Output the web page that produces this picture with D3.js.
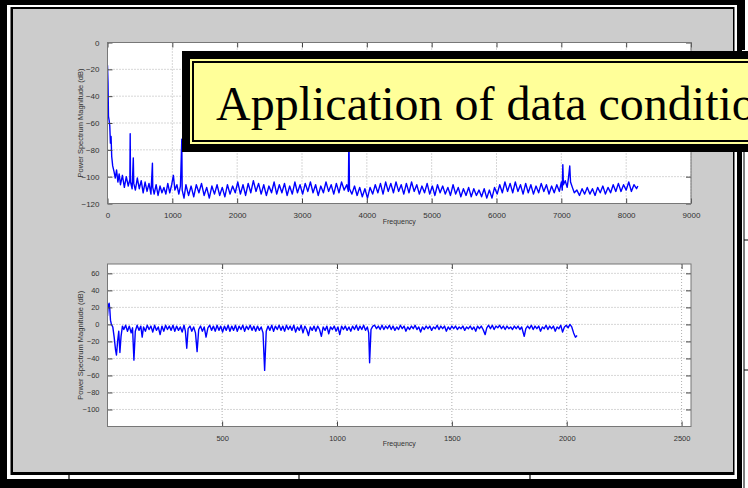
<!DOCTYPE html>
<html>
<head>
<meta charset="utf-8">
<script src="https://cdn.jsdelivr.net/npm/d3@7/dist/d3.min.js"></script>
<style>
body { margin: 0; background: #fff; }
svg { display: block; }
</style>
</head>
<body>
<script>
// raw power spectrum, [frequency Hz, dB]
var rawSpectrum = [
  [0,-17],[8,-30],[15,-55],[25,-58],[35,-62],[45,-75],[55,-70],[65,-85],[80,-92],[100,-96],
  [120,-101],[140,-95],[160,-104],[180,-98],[200,-106],[230,-99],[260,-108],[290,-100],[320,-107],[345,-102],
  [350,-68],[355,-104],[380,-109],[398,-86],[405,-105],[430,-110],[460,-101],[490,-109],[520,-103],[550,-112],
  [580,-104],[610,-111],[640,-105],[670,-113],[693,-90],[698,-108],[720,-113],[750,-106],[780,-114],[810,-107],
  [840,-112],[870,-108],[900,-113],[930,-105],[960,-112],[990,-106],[1016,-99],[1040,-110],[1070,-106],[1100,-113],
  [1125,-107],[1146,-72],[1152,-110],[1180,-116],[1210,-106],[1250,-114],[1290,-107],[1330,-115],[1370,-106],[1410,-112],
  [1450,-105],[1490,-114],[1530,-108],[1570,-116],[1610,-107],[1650,-113],[1690,-106],[1730,-114],[1770,-108],[1810,-115],
  [1850,-106],[1890,-113],[1930,-107],[1970,-112],[2010,-104],[2050,-113],[2090,-106],[2130,-114],[2170,-105],[2210,-112],
  [2250,-103],[2290,-111],[2330,-105],[2370,-113],[2410,-106],[2450,-114],[2490,-107],[2530,-112],[2570,-104],[2610,-113],
  [2650,-106],[2690,-112],[2730,-105],[2770,-114],[2810,-107],[2850,-113],[2890,-104],[2930,-112],[2970,-106],[3010,-113],
  [3050,-105],[3090,-111],[3130,-104],[3170,-112],[3210,-106],[3250,-114],[3290,-107],[3330,-112],[3370,-104],[3410,-111],
  [3450,-106],[3490,-113],[3530,-105],[3570,-112],[3610,-104],[3650,-110],[3690,-106],[3715,-111],[3724,-68],[3732,-109],
  [3770,-113],[3810,-107],[3850,-114],[3890,-108],[3930,-115],[3970,-109],[4010,-116],[4050,-108],[4090,-113],[4130,-106],
  [4170,-112],[4210,-105],[4250,-113],[4290,-104],[4330,-111],[4370,-105],[4410,-112],[4450,-104],[4490,-111],[4530,-106],
  [4570,-113],[4610,-105],[4650,-112],[4690,-104],[4730,-111],[4770,-106],[4810,-113],[4850,-107],[4890,-112],[4930,-105],
  [4970,-113],[5010,-107],[5050,-114],[5090,-106],[5130,-112],[5170,-107],[5210,-113],[5250,-108],[5290,-114],[5330,-106],
  [5370,-113],[5410,-108],[5450,-115],[5490,-109],[5530,-114],[5570,-108],[5610,-115],[5650,-109],[5690,-114],[5730,-110],
  [5770,-115],[5810,-109],[5850,-116],[5890,-110],[5930,-116],[5970,-108],[6010,-113],[6050,-106],[6090,-112],[6130,-104],
  [6170,-111],[6210,-105],[6250,-112],[6290,-104],[6330,-111],[6370,-106],[6410,-113],[6450,-105],[6490,-112],[6530,-106],
  [6570,-113],[6610,-107],[6650,-112],[6690,-105],[6730,-111],[6770,-106],[6810,-113],[6850,-107],[6890,-112],[6930,-106],
  [6970,-111],[7000,-104],[7015,-110],[7023,-91],[7032,-106],[7060,-103],[7090,-108],[7110,-101],[7130,-92],[7142,-104],
  [7170,-108],[7200,-112],[7240,-110],[7280,-114],[7320,-109],[7360,-113],[7400,-108],[7440,-113],[7480,-109],[7520,-114],
  [7560,-108],[7600,-112],[7640,-107],[7680,-113],[7720,-108],[7760,-112],[7800,-106],[7840,-111],[7880,-105],[7920,-111],
  [7960,-106],[8000,-110],[8040,-104],[8080,-111],[8120,-106],[8160,-109],[8180,-107]
];

// spectrum after data conditioning, [frequency Hz, dB]
var condSpectrum = [
  [1,10],[4,22],[8,25],[11,18],[14,5],[18,0],[24,-3],[30,-15],[36,-30],[40,-36],
  [45,-20],[50,-8],[55,-33],[60,-14],[66,-2],[72,-6],[80,-1],[88,-8],[96,-2],[104,-10],
  [110,-4],[116,-42],[122,-8],[130,-1],[138,-7],[146,-2],[152,-15],[158,-3],[166,-8],[174,-1],
  [182,-6],[190,-2],[198,-9],[206,-1],[214,-7],[222,-3],[230,-12],[238,-2],[246,-8],[254,-1],
  [262,-6],[270,-2],[278,-7],[286,-1],[294,-8],[302,-2],[310,-7],[318,-3],[326,-9],[334,-1],
  [340,-8],[346,-28],[352,-5],[360,-2],[368,-8],[376,-3],[384,-10],[391,-32],[398,-6],[406,-2],
  [414,-8],[422,-3],[430,-15],[438,-4],[446,-1],[454,-7],[462,-2],[470,-8],[478,-1],[486,-7],
  [494,-2],[502,-9],[510,-2],[518,-7],[526,-1],[534,-8],[542,-2],[550,-7],[558,-1],[566,-8],
  [574,-2],[582,-6],[590,-1],[598,-8],[606,-2],[614,-6],[622,-1],[630,-7],[638,-2],[646,-8],
  [654,-2],[662,-7],[670,-3],[678,-10],[685,-54],[692,-8],[700,-2],[708,-7],[716,-1],[724,-8],
  [732,-2],[740,-6],[748,-1],[756,-7],[764,-2],[772,-8],[780,-1],[788,-6],[796,-2],[804,-7],
  [812,-1],[820,-9],[828,-3],[836,-7],[844,-1],[852,-10],[860,-2],[868,-6],[876,-13],[884,-3],
  [892,-7],[900,-2],[908,-8],[916,-2],[924,-6],[932,-14],[940,-3],[948,-7],[956,-2],[964,-11],
  [972,-3],[980,-6],[988,-2],[996,-8],[1004,-3],[1012,-12],[1020,-2],[1028,-6],[1036,-2],[1044,-7],
  [1052,-3],[1060,-8],[1068,-2],[1076,-6],[1084,-1],[1092,-7],[1100,-2],[1108,-6],[1116,-1],[1124,-7],
  [1132,-3],[1138,-10],[1142,-45],[1148,-6],[1156,-2],[1164,-1],[1172,-5],[1180,-2],[1188,-6],[1196,-1],
  [1204,-6],[1212,-2],[1220,-5],[1228,-1],[1236,-6],[1244,-2],[1252,-7],[1260,-3],[1268,-6],[1276,-1],
  [1284,-5],[1292,-2],[1300,-8],[1308,-3],[1316,-6],[1324,-2],[1332,-5],[1340,-1],[1348,-6],[1356,-3],
  [1364,-9],[1372,-3],[1380,-6],[1388,-2],[1396,-5],[1404,-2],[1412,-7],[1420,-3],[1428,-5],[1436,-1],
  [1444,-6],[1452,-2],[1460,-5],[1468,-2],[1476,-8],[1484,-3],[1492,-6],[1500,-2],[1508,-5],[1516,-2],
  [1524,-6],[1532,-3],[1540,-5],[1548,-2],[1556,-7],[1564,-3],[1572,-5],[1580,-2],[1588,-6],[1596,-3],
  [1604,-8],[1612,-2],[1620,-5],[1628,-2],[1636,-6],[1645,-12],[1652,-4],[1660,-1],[1668,-5],[1676,-1],
  [1684,-6],[1692,-2],[1700,-4],[1708,-1],[1716,-5],[1724,-2],[1732,-6],[1740,-2],[1748,-5],[1756,-3],
  [1764,-6],[1772,-2],[1780,-5],[1788,-2],[1796,-6],[1804,-3],[1815,-14],[1822,-5],[1830,-2],[1838,-5],
  [1846,-1],[1854,-6],[1862,-2],[1870,-5],[1878,-2],[1886,-8],[1894,-3],[1902,-5],[1910,-1],[1918,-6],
  [1926,-2],[1934,-5],[1942,-2],[1950,-8],[1958,-3],[1966,-5],[1974,-1],[1982,-9],[1990,-3],[1998,-1],
  [2006,-4],[2014,0],[2022,-3],[2030,-10],[2038,-15],[2045,-13]
];

var xTicks1 = [0, 1000, 2000, 3000, 4000, 5000, 6000, 7000, 8000, 9000];
var yTicks1 = [0, -20, -40, -60, -80, -100, -120];
var xTicks2 = [500, 1000, 1500, 2000, 2500];
var yTicks2 = [60, 40, 20, 0, -20, -40, -60, -80, -100];

var svg = d3.select('body').append('svg')
    .attr('width', 748)
    .attr('height', 488);

// slide frame
svg.append('rect').attr('x', 0).attr('y', 0).attr('width', 748).attr('height', 488).attr('fill', '#fff');
svg.append('rect').attr('x', 0).attr('y', 0).attr('width', 742).attr('height', 488).attr('fill', '#000');
svg.append('rect').attr('x', 7).attr('y', 5).attr('width', 730).attr('height', 474).attr('fill', '#fff');
svg.append('rect').attr('x', 10.5).attr('y', 7).attr('width', 724).attr('height', 468).attr('fill', '#000');
svg.append('rect').attr('x', 13).attr('y', 9).attr('width', 720).attr('height', 463).attr('fill', '#cccccc');
[69, 299, 530].forEach(function (x) {
    svg.append('line').attr('x1', x).attr('x2', x).attr('y1', 475).attr('y2', 479)
        .attr('stroke', '#000').attr('stroke-width', 1.2);
});
svg.append('rect').attr('x', 742).attr('y', 0).attr('width', 3).attr('height', 50).attr('fill', '#000');
svg.append('line').attr('x1', 744).attr('x2', 744).attr('y1', 150).attr('y2', 488)
    .attr('stroke', '#000').attr('stroke-width', 1);
[240, 370].forEach(function (y) {
    svg.append('line').attr('x1', 744).attr('x2', 748).attr('y1', y).attr('y2', y)
        .attr('stroke', '#000').attr('stroke-width', 1);
});

function panel(id, data, left, top, right, bottom, xDomain, yDomain, xTicks, yTicks, fs, freqY) {
    var x = d3.scaleLinear().domain(xDomain).range([left, right]);
    var y = d3.scaleLinear().domain(yDomain).range([bottom, top]);
    var w = right - left, h = bottom - top;

    svg.append('rect').attr('x', left).attr('y', top).attr('width', w).attr('height', h).attr('fill', '#fff');

    // dotted grid
    var grid = svg.append('g').attr('stroke', '#9a9a9a').attr('stroke-width', 0.8).attr('stroke-dasharray', '1,2');
    xTicks.forEach(function (t) {
        grid.append('line').attr('x1', x(t)).attr('x2', x(t)).attr('y1', top).attr('y2', bottom);
    });
    yTicks.forEach(function (t) {
        grid.append('line').attr('x1', left).attr('x2', right).attr('y1', y(t)).attr('y2', y(t));
    });

    svg.append('clipPath').attr('id', id).append('rect')
        .attr('x', left).attr('y', top).attr('width', w).attr('height', h);

    var line = d3.line().x(function (d) { return x(d[0]); }).y(function (d) { return y(d[1]); });
    svg.append('path').datum(data)
        .attr('clip-path', 'url(#' + id + ')')
        .attr('d', line)
        .attr('fill', 'none')
        .attr('stroke', '#0000ff')
        .attr('stroke-width', 1.4)
        .attr('stroke-linejoin', 'round');

    var tl = 5;
    var axB = svg.append('g').attr('transform', 'translate(0,' + bottom + ')')
        .call(d3.axisBottom(x).tickValues(xTicks).tickSizeInner(-tl).tickSizeOuter(0).tickPadding(tl + 4).tickFormat(d3.format('d')));
    var axT = svg.append('g').attr('transform', 'translate(0,' + top + ')')
        .call(d3.axisTop(x).tickValues(xTicks).tickSizeInner(-tl).tickSizeOuter(0).tickFormat(''));
    var axL = svg.append('g').attr('transform', 'translate(' + left + ',0)')
        .call(d3.axisLeft(y).tickValues(yTicks).tickSizeInner(-tl).tickSizeOuter(0).tickPadding(tl + 3).tickFormat(d3.format('d')));
    var axR = svg.append('g').attr('transform', 'translate(' + right + ',0)')
        .call(d3.axisRight(y).tickValues(yTicks).tickSizeInner(-tl).tickSizeOuter(0).tickFormat(''));
    [axB, axT, axL, axR].forEach(function (a) {
        a.select('.domain').remove();
        a.selectAll('line').attr('stroke', '#444');
        a.selectAll('text').attr('fill', '#333').attr('font-family', 'Liberation Sans, Arial, sans-serif').attr('font-size', fs);
    });

    svg.append('rect').attr('x', left).attr('y', top).attr('width', w).attr('height', h)
        .attr('fill', 'none').attr('stroke', '#777').attr('stroke-width', 1);

    svg.append('text')
        .attr('transform', 'translate(83,' + ((top + bottom) / 2) + ') rotate(-90)')
        .attr('text-anchor', 'middle')
        .attr('font-family', 'Liberation Sans, Arial, sans-serif')
        .attr('font-size', 7.5)
        .attr('fill', '#333')
        .text('Power Spectrum Magnitude (dB)');

    svg.append('text')
        .attr('x', (left + right) / 2)
        .attr('y', freqY)
        .attr('text-anchor', 'middle')
        .attr('font-family', 'Liberation Sans, Arial, sans-serif')
        .attr('font-size', 7)
        .attr('fill', '#333')
        .text('Frequency');
}

panel('c1', rawSpectrum, 107.5, 42.5, 691, 203.5, [0, 9000], [-120, 0], xTicks1, yTicks1, 8, 224);
panel('c2', condSpectrum, 107.5, 264, 691, 426.5, [1, 2541], [-120, 71], xTicks2, yTicks2, 7.5, 446);

// title banner, runs off the right edge as in the slide
var box = svg.append('g');
box.append('rect').attr('x', 182).attr('y', 51).attr('width', 600).attr('height', 101).attr('fill', '#000');
box.append('rect').attr('x', 190).attr('y', 59).attr('width', 600).attr('height', 85).attr('fill', '#ffff99');
box.append('rect').attr('x', 192).attr('y', 61).attr('width', 600).attr('height', 81).attr('fill', '#000');
box.append('rect').attr('x', 194).attr('y', 63).attr('width', 600).attr('height', 77).attr('fill', '#ffff99');
box.append('text')
    .attr('x', 216)
    .attr('y', 120)
    .attr('font-family', 'Liberation Serif, Times New Roman, serif')
    .attr('font-size', 48)
    .attr('fill', '#000')
    .text('Application of data conditioning');
</script>
</body>
</html>
